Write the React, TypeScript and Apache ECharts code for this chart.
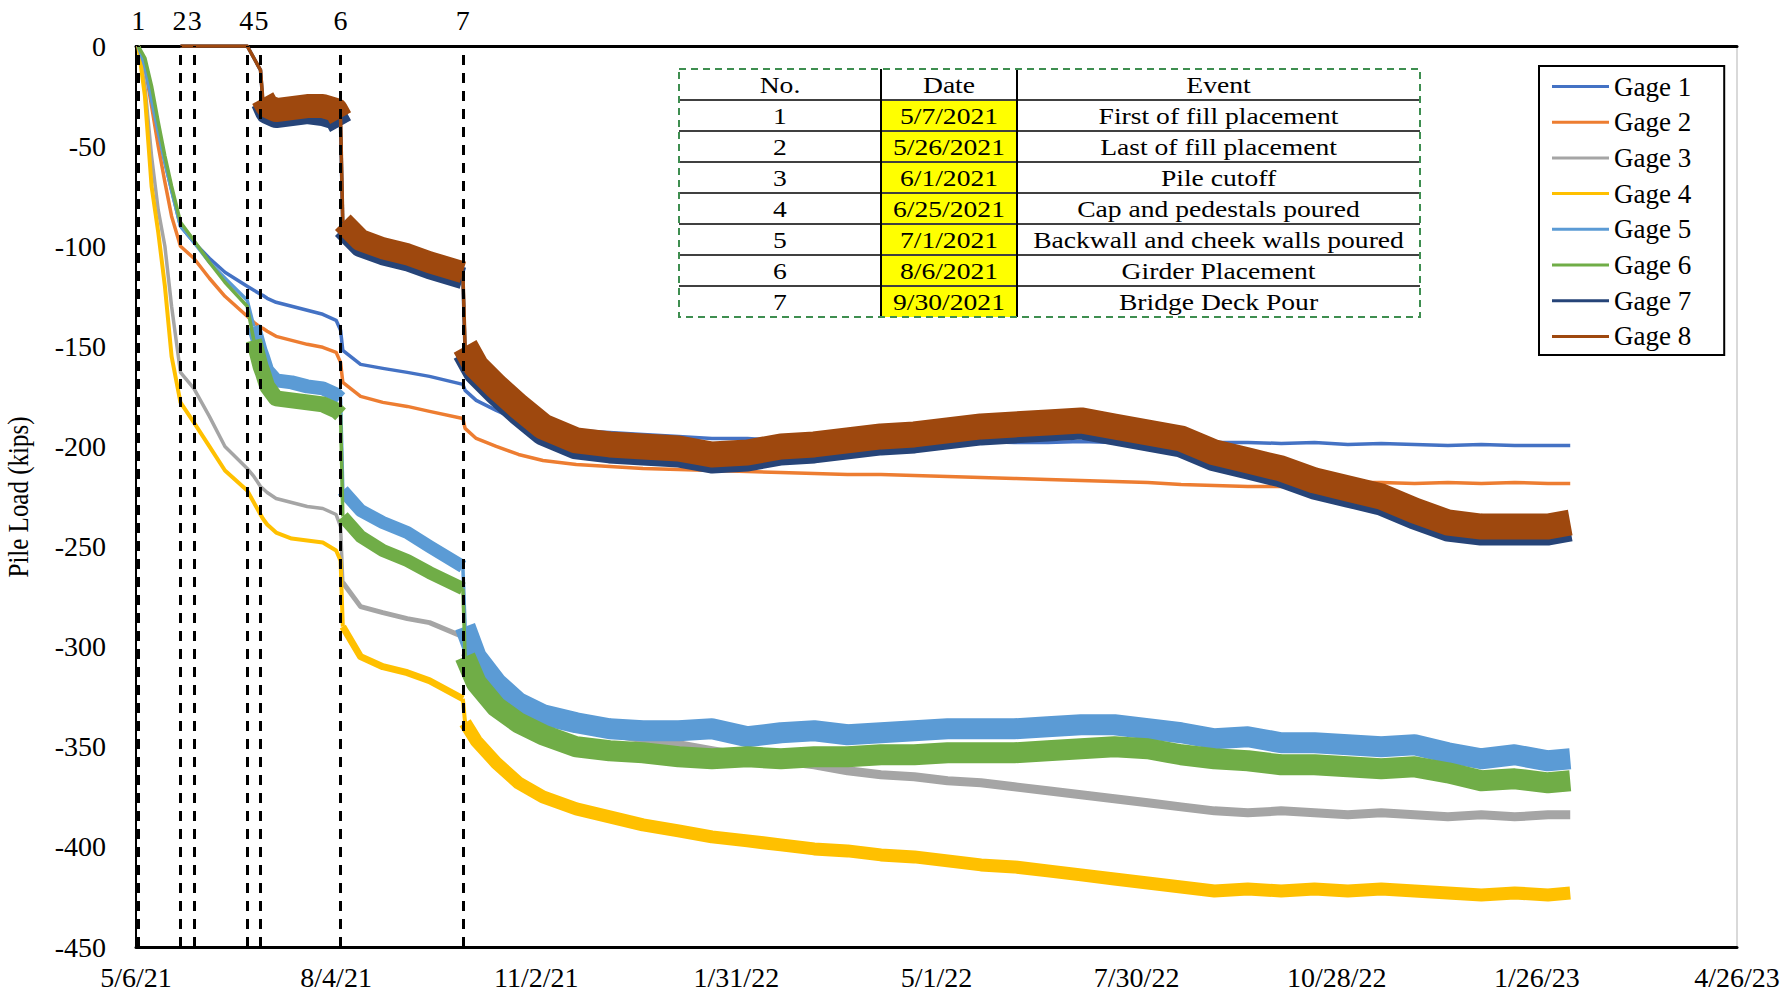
import React, { useEffect, useRef } from "react";
import * as echarts from "echarts";

// ---------- DATA ----------
const gageNames = ["Gage 1", "Gage 2", "Gage 3", "Gage 4", "Gage 5", "Gage 6", "Gage 7", "Gage 8"];
const gageColors = ["#4472C4", "#ED7D31", "#A5A5A5", "#FFC000", "#5B9BD5", "#70AD47", "#264478", "#9E480E"];

const dates = [
  "2021-05-07", "2021-05-10", "2021-05-13", "2021-05-16", "2021-05-19", "2021-05-22", "2021-05-26", "2021-06-01", "2021-06-08", "2021-06-15",
  "2021-06-25", "2021-06-28", "2021-07-01", "2021-07-02", "2021-07-04", "2021-07-08", "2021-07-15", "2021-07-22", "2021-07-29", "2021-08-04",
  "2021-08-06", "2021-08-07", "2021-08-15", "2021-08-25", "2021-09-05", "2021-09-15", "2021-09-30", "2021-10-01", "2021-10-06", "2021-10-15",
  "2021-10-25", "2021-11-05", "2021-11-20", "2021-12-05", "2021-12-20", "2022-01-05", "2022-01-20", "2022-02-05", "2022-02-20", "2022-03-07",
  "2022-03-22", "2022-04-06", "2022-04-21", "2022-05-06", "2022-05-21", "2022-06-05", "2022-06-20", "2022-07-05", "2022-07-20", "2022-08-04",
  "2022-08-19", "2022-09-03", "2022-09-18", "2022-10-03", "2022-10-18", "2022-11-02", "2022-11-17", "2022-12-02", "2022-12-17", "2023-01-01",
  "2023-01-16", "2023-01-31", "2023-02-10",
];

const gage1 = [
  0, -10, -27, -43, -58, -72, -90, -98, -106, -113,
  -120, -122, -124, -124.5, -126, -128, -130, -132, -134, -137,
  -142, -152, -159, -161, -163, -165, -169, -172, -177, -182,
  -187, -190, -192, -193, -194, -195, -196, -196, -197, -197,
  -197, -197, -197.5, -197, -197.5, -198, -198, -197.5, -198, -198,
  -198.5, -198, -198, -198.5, -198, -199, -198.5, -199, -199.5, -199,
  -199.5, -199.5, -199.5,
];
const gage2 = [
  0, -10, -30, -50, -68, -85, -100, -106, -116, -125,
  -135, -138, -140.5, -141, -142.5, -145, -147, -149, -150.5, -153,
  -158, -168, -175, -178, -180, -182.5, -186, -191, -196, -200,
  -204, -207, -209, -210, -211, -211.5, -212, -212.5, -213, -213.5,
  -214, -214, -214.5, -215, -215.5, -216, -216.5, -217, -217.5, -218,
  -219, -219.5, -220, -220, -219, -218, -218, -218.5, -218, -218.5,
  -218, -218.5, -218.5,
];
const gage3 = [
  0, -20, -55, -82, -100, -130, -163, -171, -185, -200,
  -211, -215, -220, -221, -223, -226, -228, -230, -231, -234,
  -240, -268, -280, -283, -286, -288, -295, -303, -312, -320,
  -328, -334, -340, -343, -346, -349, -352, -355, -357, -359,
  -362, -364, -365, -367, -368, -370, -372, -374, -376, -378,
  -380, -382, -383, -382, -383, -384, -383, -384, -385, -384,
  -385, -384, -384,
];
const gage4 = [
  0, -25, -70, -93, -120, -155, -178, -188, -200, -212,
  -222, -228, -234, -236, -239, -243, -246, -247, -248, -252,
  -257, -290, -305, -310, -313, -317, -326, -338, -347, -358,
  -368, -375, -381, -385, -389, -392, -395, -397, -399, -401,
  -402, -404, -405, -407, -409, -410, -412, -414, -416, -418,
  -420, -422, -421, -422, -421, -422, -421, -422, -423, -424,
  -423, -424, -423,
];
const gage5 = [
  0, -10, -27, -43, -58, -72, -90, -98, -108, -116,
  -127, -140, -152, -155, -162, -167, -168, -170, -171, -174,
  -176, -222, -232, -238, -243, -250, -260, -290, -305, -318,
  -328, -334, -338, -341, -342, -342, -341, -345, -343, -342,
  -344, -343, -342, -341, -341, -341, -340, -339, -339, -341,
  -343, -346, -345, -348, -348, -349, -350, -349, -353, -356,
  -354, -357, -356,
];
const gage6 = [
  0, -6, -20, -38, -55, -70, -88, -97, -108, -118,
  -130, -147, -160, -163, -170, -176, -177, -178, -179, -182,
  -184, -235, -245, -252, -257, -263, -271, -305, -318, -330,
  -338, -344, -350, -352, -353, -355, -356, -355, -356, -355,
  -355, -354, -354, -353, -353, -353, -352, -351, -350, -351,
  -354, -356, -357, -359, -359, -360, -361, -360, -363, -367,
  -366, -368, -367,
];
const gage7 = [
  null, null, null, null, null, null, 0, 0, 0, 0,
  0, -6, -12, -28, -33, -35, -34, -33, -34, -36,
  -40, -91, -100, -104, -107, -111, -116, -153, -163, -173,
  -183, -193, -200, -202, -203, -204, -207, -206, -203, -202,
  -200, -198, -197, -195, -193, -192, -191, -190, -193, -196,
  -199, -206, -210, -214, -220, -224, -228, -235, -241, -243,
  -243, -243, -241,
];
const gage8 = [
  null, null, null, null, null, null, 0, 0, 0, 0,
  0, -6, -12, -26, -30, -32, -31, -30, -30, -32,
  -36, -88, -97, -101, -104, -108, -113, -150, -160, -170,
  -180, -190, -197, -199, -200, -201, -204, -203, -200, -199,
  -197, -195, -194, -192, -190, -189, -188, -187, -190, -193,
  -196, -203, -207, -211, -217, -221, -225, -232, -238, -240,
  -240, -240, -238,
];
const gageValues = [gage1, gage2, gage3, gage4, gage5, gage6, gage7, gage8];

const eventNos = ["1", "2", "3", "4", "5", "6", "7"];
const eventDates = ["5/7/2021", "5/26/2021", "6/1/2021", "6/25/2021", "7/1/2021", "8/6/2021", "9/30/2021"];
const eventNames = [
  "First of fill placement",
  "Last of fill placement",
  "Pile cutoff",
  "Cap and pedestals poured",
  "Backwall and cheek walls poured",
  "Girder Placement",
  "Bridge Deck Pour",
];
const tableHeaders = ["No.", "Date", "Event"];

const yTicks = { min: -450, max: 0, step: 50 };
const xStartDate = "2021-05-06";
const xEndDate = "2023-04-26";
const xStepDays = 90;

// ---------- STYLE: stroke width of each gauge over day ranges (noise band thickness) ----------
const bandSegments: number[][][] = [
  [[0, 700, 3.5]],
  [[0, 700, 3.5]],
  [[0, 93, 3.5], [93, 147, 5], [147, 148, 3.5], [148, 700, 9]],
  [[0, 93, 4], [93, 147, 7], [147, 148, 4], [148, 700, 13]],
  [[0, 53, 3.5], [53, 92, 14], [92, 93, 3.5], [93, 147, 13], [147, 148, 3.5], [148, 700, 21]],
  [[0, 53, 3.5], [53, 92, 16], [92, 93, 3.5], [93, 147, 13], [147, 148, 3.5], [148, 700, 21]],
  [[0, 57, 3.5], [57, 92, 24], [92, 93, 3.5], [93, 147, 22], [147, 148, 3.5], [148, 700, 26]],
  [[0, 57, 3.5], [57, 92, 24], [92, 93, 3.5], [93, 147, 22], [147, 148, 3.5], [148, 700, 26]],
];

// ---------- HELPERS ----------
const DAY = 86400000;
const isoUTC = (s: string) => {
  const [y, m, d] = s.split("-").map(Number);
  return Date.UTC(y, m - 1, d);
};
const usUTC = (s: string) => {
  const [m, d, y] = s.split("/").map(Number);
  return Date.UTC(y, m - 1, d);
};
const base = isoUTC(xStartDate);
const dayOf = (s: string) => Math.round((isoUTC(s) - base) / DAY);
const dayOfUS = (s: string) => Math.round((usUTC(s) - base) / DAY);
const fmtDay = (v: number) => {
  const dt = new Date(base + v * DAY);
  return `${dt.getUTCMonth() + 1}/${dt.getUTCDate()}/${String(dt.getUTCFullYear()).slice(2)}`;
};

const FONT = '"Liberation Serif", "Times New Roman", serif';

export default function App() {
  const ref = useRef<HTMLDivElement>(null);

  useEffect(() => {
    if (!ref.current) return;
    const chart = echarts.init(ref.current, undefined, { renderer: "svg" });

    const series: any[] = [];
    gageNames.forEach((name, gi) => {
      const pts = dates
        .map((d, i) => [dayOf(d), gageValues[gi][i]])
        .filter((p) => p[1] !== null && p[1] !== undefined) as number[][];
      bandSegments[gi].forEach(([from, to, w]) => {
        const seg = pts.filter((p) => p[0] >= from && p[0] <= to);
        if (seg.length < 2) return;
        series.push({
          name,
          type: "line",
          symbol: "none",
          showSymbol: false,
          z: 2,
          color: gageColors[gi],
          itemStyle: { color: gageColors[gi] },
          lineStyle: { color: gageColors[gi], width: w, join: "round" },
          data: seg,
        });
      });
    });

    const labelOffsets: Record<number, number[]> = { 1: [-1, 0], 2: [1, 0], 3: [-1, 0], 4: [1, 0] };
    series.push({
      name: "events",
      type: "line",
      data: [],
      z: 5,
      markLine: {
        silent: true,
        symbol: ["none", "none"],
        lineStyle: { color: "#000", width: 3, type: [10, 8] },
        label: {
          show: true,
          position: "end",
          distance: 12,
          fontFamily: FONT,
          fontSize: 28,
          color: "#000",
          formatter: (p: any) => p.name,
        },
        data: eventDates.map((d, i) => ({
          name: eventNos[i],
          xAxis: dayOfUS(d),
          label: labelOffsets[i] ? { offset: labelOffsets[i] } : undefined,
        })),
      },
    });

    // table graphics
    const T = { x0: 679, x1: 881, x2: 1017, x3: 1420, top: 69, headH: 31, rowH: 31 };
    const rowsTop = T.top + T.headH;
    const bottom = rowsTop + T.rowH * eventNos.length;
    const graphics: any[] = [];
    eventNos.forEach((_, i) => {
      graphics.push({
        type: "rect",
        shape: { x: T.x1, y: rowsTop + i * T.rowH, width: T.x2 - T.x1, height: T.rowH },
        style: { fill: "#FFFF00" },
        z: 10,
      });
    });
    eventNos.forEach((_, i) => {
      const y = rowsTop + i * T.rowH;
      graphics.push({
        type: "line",
        shape: { x1: T.x0, y1: y, x2: T.x3, y2: y },
        style: { stroke: "#404040", lineWidth: 2 },
        z: 11,
      });
    });
    [T.x1, T.x2].forEach((x) => {
      graphics.push({
        type: "line",
        shape: { x1: x, y1: T.top, x2: x, y2: bottom },
        style: { stroke: "#000", lineWidth: 2 },
        z: 11,
      });
    });
    graphics.push({
      type: "rect",
      shape: { x: T.x0, y: T.top, width: T.x3 - T.x0, height: bottom - T.top },
      style: { fill: null, stroke: "#3E8E50", lineWidth: 2, lineDash: [7, 5] },
      z: 12,
    });
    const colCenters = [(T.x0 + T.x1) / 2, (T.x1 + T.x2) / 2, (T.x2 + T.x3) / 2];
    const addText = (text: string, x: number, y: number) =>
      graphics.push({
        type: "text",
        x,
        y,
        scaleX: 1.2,
        z: 13,
        style: {
          text,
          x: 0,
          y: 0,
          fill: "#000",
          font: `23px ${FONT}`,
          textAlign: "center",
          textVerticalAlign: "middle",
          verticalAlign: "middle",
        },
      });
    tableHeaders.forEach((h, c) => addText(h, colCenters[c], T.top + T.headH / 2));
    eventNos.forEach((n, i) => {
      const cy = rowsTop + i * T.rowH + T.rowH / 2;
      addText(n, colCenters[0], cy);
      addText(eventDates[i], colCenters[1], cy);
      addText(eventNames[i], colCenters[2], cy);
    });
    // y axis title
    graphics.push({
      type: "text",
      x: 18,
      y: 497,
      rotation: Math.PI / 2,
      scaleY: 1.18,
      z: 13,
      style: {
        text: "Pile Load (kips)",
        x: 0,
        y: 0,
        fill: "#000",
        font: `25px ${FONT}`,
        textAlign: "center",
        textVerticalAlign: "middle",
        verticalAlign: "middle",
      },
    });

    const xMax = dayOf(xEndDate);

    chart.setOption({
      animation: false,
      backgroundColor: "#fff",
      grid: {
        left: 136,
        right: 55,
        top: 46,
        bottom: 44,
        show: true,
        borderColor: "#d9d9d9",
        borderWidth: 2,
        backgroundColor: "transparent",
      },
      legend: {
        data: gageNames,
        orient: "vertical",
        left: 1539,
        top: 66,
        padding: [7, 33, 5, 13],
        icon: "rect",
        itemWidth: 57,
        itemHeight: 3,
        itemGap: 8.7,
        borderColor: "#000",
        borderWidth: 2,
        backgroundColor: "#fff",
        textStyle: { fontFamily: FONT, fontSize: 27, color: "#000", lineHeight: 26, height: 26 },
        z: 20,
      },
      xAxis: [
        {
          type: "value",
          min: 0,
          max: xMax,
          interval: xStepDays,
          axisLine: { show: true, onZero: false, lineStyle: { color: "#000", width: 3 } },
          axisTick: { show: false },
          splitLine: { show: false },
          axisLabel: {
            margin: 16,
            fontFamily: FONT,
            fontSize: 28,
            color: "#000",
            showMinLabel: true,
            showMaxLabel: true,
            formatter: (v: number) => fmtDay(v),
          },
        },
        {
          type: "value",
          position: "top",
          min: 0,
          max: xMax,
          interval: xStepDays,
          axisLine: { show: true, onZero: false, lineStyle: { color: "#000", width: 3 } },
          axisTick: { show: false },
          splitLine: { show: false },
          axisLabel: { show: false },
        },
      ],
      yAxis: {
        type: "value",
        min: yTicks.min,
        max: yTicks.max,
        interval: yTicks.step,
        axisLine: { show: true, onZero: false, lineStyle: { color: "#000", width: 2 } },
        axisTick: { show: false },
        splitLine: { show: false },
        axisLabel: { margin: 30, fontFamily: FONT, fontSize: 28, color: "#000" },
      },
      series,
      graphic: graphics,
    });

    return () => chart.dispose();
  }, []);

  return (
    <div
      ref={ref}
      style={{ position: "absolute", left: 0, top: 0, width: 1792, height: 991, background: "#fff" }}
    />
  );
}
